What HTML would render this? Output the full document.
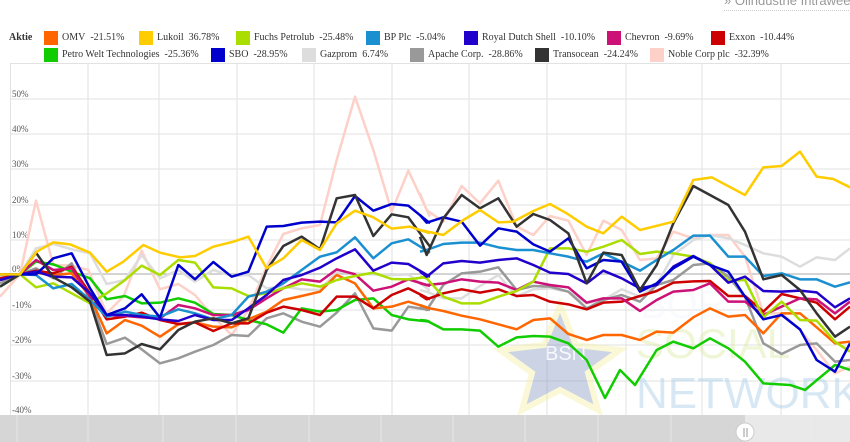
<!DOCTYPE html>
<html><head><meta charset="utf-8"><style>
body{margin:0;width:850px;height:442px;overflow:hidden;background:#fff;font-family:"Liberation Serif",serif;}
.lg{position:absolute;font-size:10px;color:#333;white-space:nowrap;line-height:14px}
.sw{position:absolute;width:14px;height:14px}
</style></head><body>
<div style="position:absolute;left:724px;top:-7px;font:13px 'Liberation Sans',sans-serif;color:#999;border-bottom:1px dotted #ccc;padding-bottom:2px;white-space:nowrap">» Ölindustrie Intraweek</div>
<div class="lg" style="left:9px;top:31px;font-weight:bold">Aktie</div>
<div class="sw" style="left:44px;top:31px;background:#ff6600"></div><div class="lg" style="left:62px;top:31px">OMV&nbsp; -21.51%</div>
<div class="sw" style="left:139px;top:31px;background:#ffcc00"></div><div class="lg" style="left:157px;top:31px">Lukoil&nbsp; 36.78%</div>
<div class="sw" style="left:236px;top:31px;background:#aadd00"></div><div class="lg" style="left:254px;top:31px">Fuchs Petrolub&nbsp; -25.48%</div>
<div class="sw" style="left:366px;top:31px;background:#1a90d0"></div><div class="lg" style="left:384px;top:31px">BP Plc&nbsp; -5.04%</div>
<div class="sw" style="left:464px;top:31px;background:#2200cc"></div><div class="lg" style="left:482px;top:31px">Royal Dutch Shell&nbsp; -10.10%</div>
<div class="sw" style="left:607px;top:31px;background:#cc1177"></div><div class="lg" style="left:625px;top:31px">Chevron&nbsp; -9.69%</div>
<div class="sw" style="left:711px;top:31px;background:#cc0000"></div><div class="lg" style="left:729px;top:31px">Exxon&nbsp; -10.44%</div>
<div class="sw" style="left:44px;top:48px;background:#11cc00"></div><div class="lg" style="left:62px;top:48px">Petro Welt Technologies&nbsp; -25.36%</div>
<div class="sw" style="left:211px;top:48px;background:#0000cc"></div><div class="lg" style="left:229px;top:48px">SBO&nbsp; -28.95%</div>
<div class="sw" style="left:302px;top:48px;background:#dddddd"></div><div class="lg" style="left:320px;top:48px">Gazprom&nbsp; 6.74%</div>
<div class="sw" style="left:410px;top:48px;background:#999999"></div><div class="lg" style="left:428px;top:48px">Apache Corp.&nbsp; -28.86%</div>
<div class="sw" style="left:535px;top:48px;background:#333333"></div><div class="lg" style="left:553px;top:48px">Transocean&nbsp; -24.24%</div>
<div class="sw" style="left:650px;top:48px;background:#fdd0c8"></div><div class="lg" style="left:668px;top:48px">Noble Corp plc&nbsp; -32.39%</div>

<svg style="position:absolute;left:0;top:0" width="850" height="442">
<g stroke="#e2e2e2" stroke-width="1">
<line x1="10" y1="63.5" x2="850" y2="63.5"/>
<line x1="10" y1="99" x2="850" y2="99"/><line x1="10" y1="134" x2="850" y2="134"/><line x1="10" y1="169" x2="850" y2="169"/><line x1="10" y1="205" x2="850" y2="205"/><line x1="10" y1="240" x2="850" y2="240"/><line x1="10" y1="310" x2="850" y2="310"/><line x1="10" y1="345" x2="850" y2="345"/><line x1="10" y1="381" x2="850" y2="381"/>
<line x1="10.5" y1="63" x2="10.5" y2="415"/><line x1="88" y1="63" x2="88" y2="415"/><line x1="159" y1="63" x2="159" y2="415"/><line x1="237" y1="63" x2="237" y2="415"/><line x1="314" y1="63" x2="314" y2="415"/><line x1="392" y1="63" x2="392" y2="415"/><line x1="469" y1="63" x2="469" y2="415"/><line x1="547" y1="63" x2="547" y2="415"/><line x1="626" y1="63" x2="626" y2="415"/><line x1="702" y1="63" x2="702" y2="415"/><line x1="781" y1="63" x2="781" y2="415"/>
</g>
<line x1="10" y1="274" x2="850" y2="274" stroke="#bbb" stroke-width="1.2"/>
<g font-family="Liberation Serif,serif" font-size="9" fill="#555">
<text x="12" y="97">50%</text><text x="12" y="132">40%</text><text x="12" y="167">30%</text><text x="12" y="203">20%</text><text x="12" y="238">10%</text><text x="12" y="272">0%</text><text x="12" y="308">-10%</text><text x="12" y="343">-20%</text><text x="12" y="379">-30%</text><text x="12" y="413">-40%</text>
</g>
<!-- watermark -->
<g opacity="0.4">
<polygon points="560,305 576,345 620,350 588,373 598,410 560,390 522,410 532,373 500,350 544,345" fill="#7f93c0" stroke="#f3f09a" stroke-width="6"/>
<text x="545" y="360" font-family="Liberation Sans,sans-serif" font-size="20" fill="#eef2fa">BSN</text>
<text x="640" y="318" font-family="Liberation Sans,sans-serif" font-size="40" fill="#eef5fb">BÖRSE</text>
<text x="636" y="358" font-family="Liberation Sans,sans-serif" font-size="42" fill="#d8e99a">SOCIAL</text>
<text x="636" y="408" font-family="Liberation Sans,sans-serif" font-size="44" fill="#9cc8e6">NETWORK</text>
</g>
<g fill="none" stroke-width="7.5" stroke-linejoin="round">
<g transform="translate(0,80) scale(0.33333)">
<polyline stroke="#fdd0c8" points="0,650 60,583 108,362 160,555 215,557 265,570 320,700 370,650 425,512 480,628 535,612 585,645 640,710 695,765 745,690 800,560 850,462 905,445 960,435 1010,240 1065,50 1120,210 1175,395 1225,272 1290,410"/>
<polyline stroke="#dddddd" points="0,590 60,583 108,505 160,492 215,508 270,520 320,612 375,600 425,525 480,595 535,570 585,605 640,570 695,588 745,585 800,625 850,620 905,628 960,630 1010,575 1065,580 1120,583 1175,585 1225,583 1290,632"/>
<polyline stroke="#999999" points="0,610 60,583 108,565 160,595 215,550 270,660 320,792 375,773 425,808 480,850 535,835 585,815 640,795 695,765 745,768 800,715 850,700 905,725 960,740 1010,698 1065,640 1120,745 1175,752 1225,680 1290,690"/>
<polyline stroke="#11cc00" points="0,620 60,583 108,545 160,553 215,575 270,595 320,658 375,648 425,670 480,668 535,655 585,668 640,702 695,705 745,720 800,733 850,758 905,685 960,695 1010,690 1065,660 1120,655 1175,705 1225,718 1290,725"/>
<polyline stroke="#ff6600" points="0,600 60,583 108,578 160,585 215,580 270,650 320,760 375,720 425,737 480,770 535,733 585,727 640,740 695,742 745,718 800,695 850,660 905,648 960,635 1010,585 1065,610 1120,685 1175,680 1225,665 1290,685"/>
<polyline stroke="#cc0000" points="0,595 60,583 108,572 160,580 215,560 270,640 320,718 375,710 425,698 480,720 535,732 585,727 640,753 695,730 745,730 800,698 850,680 905,690 960,705 1010,650 1065,650 1120,685 1175,645 1225,625 1290,658"/>
<polyline stroke="#cc1177" points="0,600 60,583 108,540 160,570 215,565 270,650 320,705 375,708 425,712 480,715 535,675 585,685 640,705 695,705 745,690 800,655 850,625 905,598 960,605 1010,568 1065,583 1120,632 1175,620 1225,598 1290,618"/>
<polyline stroke="#aadd00" points="0,583 60,583 108,622 160,610 215,640 270,670 320,640 375,600 425,557 480,585 535,540 585,548 640,622 695,625 745,648 800,640 850,625 905,610 960,620 1010,600 1065,588 1120,578 1175,597 1225,598 1290,590"/>
<polyline stroke="#1a90d0" points="0,600 60,583 108,585 160,625 215,612 270,660 320,710 375,695 425,705 480,710 535,688 585,700 640,718 695,705 745,650 800,635 850,610 905,570 960,530 1010,517 1065,472 1120,535 1175,490 1225,478 1290,518"/>
<polyline stroke="#2200cc" points="0,600 60,583 108,575 160,590 215,592 270,640 320,705 375,705 425,710 480,718 535,723 585,705 640,720 695,720 745,685 800,645 850,600 905,585 960,563 1010,535 1065,508 1120,572 1175,548 1225,552 1290,590"/>
<polyline stroke="#0000cc" points="0,583 60,583 108,583 160,535 215,520 270,625 320,705 375,685 425,643 480,713 535,555 585,598 640,546 695,590 745,575 800,440 850,438 905,428 960,425 1010,427 1065,348 1120,392 1175,372 1225,377 1290,430"/>
<polyline stroke="#333333" points="0,620 60,583 108,518 160,592 215,622 270,665 320,825 375,820 425,792 480,808 535,750 585,725 640,715 695,730 745,715 800,570 850,498 905,470 960,508 1010,355 1065,345 1120,468 1175,403 1225,412 1290,500"/>
<polyline stroke="#ffcc00" points="0,583 60,583 110,515 160,487 210,493 270,518 320,575 370,545 430,495 480,518 540,532 585,528 640,500 700,485 745,470 800,565 850,535 905,480 960,510 1010,430 1065,392 1120,412 1175,446 1230,440 1290,460"/>
</g>
<g transform="translate(420,80) scale(0.33333)">
<polyline stroke="#fdd0c8" points="0,340 20,390 70,425 125,318 180,370 235,302 290,440 340,465 390,408 445,422 500,525 550,422 605,450 660,540 710,535 760,455 820,475 870,465 925,465 975,530 1030,700 1085,700 1140,750 1190,810 1245,880 1290,860"/>
<polyline stroke="#dddddd" points="0,630 20,635 70,655 125,655 180,618 235,585 290,650 340,628 390,625 445,635 500,670 550,660 605,628 660,650 710,615 760,525 820,480 870,465 925,475 975,495 1030,520 1085,530 1140,560 1190,532 1245,540 1290,505"/>
<polyline stroke="#999999" points="0,680 20,690 70,615 125,580 180,575 235,562 290,630 340,618 390,620 445,635 500,685 550,660 605,645 660,665 710,615 760,600 820,555 870,550 925,590 975,650 1030,790 1085,822 1140,795 1190,790 1245,845 1290,840"/>
<polyline stroke="#11cc00" points="0,720 20,722 70,748 125,748 180,752 235,800 290,772 340,768 390,770 445,790 500,840 555,954 600,870 645,915 710,810 760,785 820,805 870,775 925,805 975,845 1030,910 1110,915 1155,930 1245,855 1290,870"/>
<polyline stroke="#ff6600" points="0,675 20,683 70,693 125,707 180,718 235,733 290,748 340,720 390,715 445,762 500,780 550,765 605,765 660,780 710,755 760,758 820,712 870,685 925,710 975,705 1030,760 1085,700 1140,700 1190,742 1245,790 1290,785"/>
<polyline stroke="#cc0000" points="0,645 20,658 70,640 125,628 180,638 235,628 290,648 340,645 390,665 445,673 500,688 550,668 605,665 660,648 710,633 760,608 820,604 870,603 925,648 975,648 1030,695 1085,642 1140,655 1190,668 1245,718 1290,680"/>
<polyline stroke="#cc1177" points="0,610 20,615 70,610 125,598 180,605 235,608 290,630 340,605 390,615 445,622 500,668 550,655 605,655 660,693 710,660 760,635 820,630 870,610 925,665 975,665 1030,705 1085,680 1140,655 1190,658 1245,700 1290,665"/>
<polyline stroke="#aadd00" points="0,590 20,595 70,650 125,670 180,670 235,650 290,633 340,605 390,505 445,505 500,515 550,500 605,480 660,522 710,515 760,520 820,530 870,550 925,602 975,600 1030,712 1085,665 1140,720 1190,722 1245,785 1290,815"/>
<polyline stroke="#1a90d0" points="0,515 20,510 70,492 125,488 180,488 235,502 290,510 340,510 390,520 445,530 500,545 550,520 605,545 660,572 710,540 760,510 820,467 870,467 925,530 975,530 1030,588 1085,580 1140,598 1190,598 1245,620 1290,607"/>
<polyline stroke="#2200cc" points="0,575 20,590 70,550 125,543 180,548 235,540 290,535 340,555 390,578 445,582 500,610 550,572 605,595 660,625 710,615 760,560 820,528 870,555 925,608 975,590 1030,633 1085,635 1140,632 1190,637 1245,682 1290,655"/>
<polyline stroke="#0000cc" points="0,405 20,428 70,412 125,425 180,497 235,445 290,455 340,493 390,515 445,475 500,565 550,540 605,545 660,635 710,610 760,565 820,530 870,555 925,575 975,650 1030,718 1085,705 1140,748 1190,840 1245,875 1290,790"/>
<polyline stroke="#333333" points="0,470 20,525 70,415 125,345 180,385 235,355 290,440 340,402 390,420 445,460 500,610 550,518 605,525 660,630 710,555 760,430 820,318 870,345 925,375 975,455 1030,598 1085,585 1140,630 1190,700 1245,770 1290,740"/>
<polyline stroke="#ffcc00" points="0,450 70,465 130,420 180,390 235,427 280,425 340,393 390,372 440,400 500,440 550,460 605,410 660,450 760,425 820,300 875,292 975,345 1030,262 1085,258 1140,215 1190,290 1240,297 1290,322"/>
</g>
</g>
<!-- navigator -->
<rect x="0" y="415" width="850" height="27" fill="#d6d6d6"/>
<rect x="745" y="415" width="105" height="27" fill="#e9e9e9"/>
<g stroke="#e6e6e6"><line x1="17" y1="415" x2="17" y2="442"/><line x1="88" y1="415" x2="88" y2="442"/><line x1="163" y1="415" x2="163" y2="442"/><line x1="236" y1="415" x2="236" y2="442"/><line x1="309" y1="415" x2="309" y2="442"/><line x1="381" y1="415" x2="381" y2="442"/><line x1="453" y1="415" x2="453" y2="442"/><line x1="525" y1="415" x2="525" y2="442"/><line x1="598" y1="415" x2="598" y2="442"/><line x1="671" y1="415" x2="671" y2="442"/><line x1="815" y1="415" x2="815" y2="442"/></g>
<circle cx="745" cy="432" r="9" fill="#fff" stroke="#ccc"/>
<line x1="744" y1="428" x2="744" y2="437" stroke="#999"/><line x1="747" y1="428" x2="747" y2="437" stroke="#999"/>
</svg>
</body></html>
